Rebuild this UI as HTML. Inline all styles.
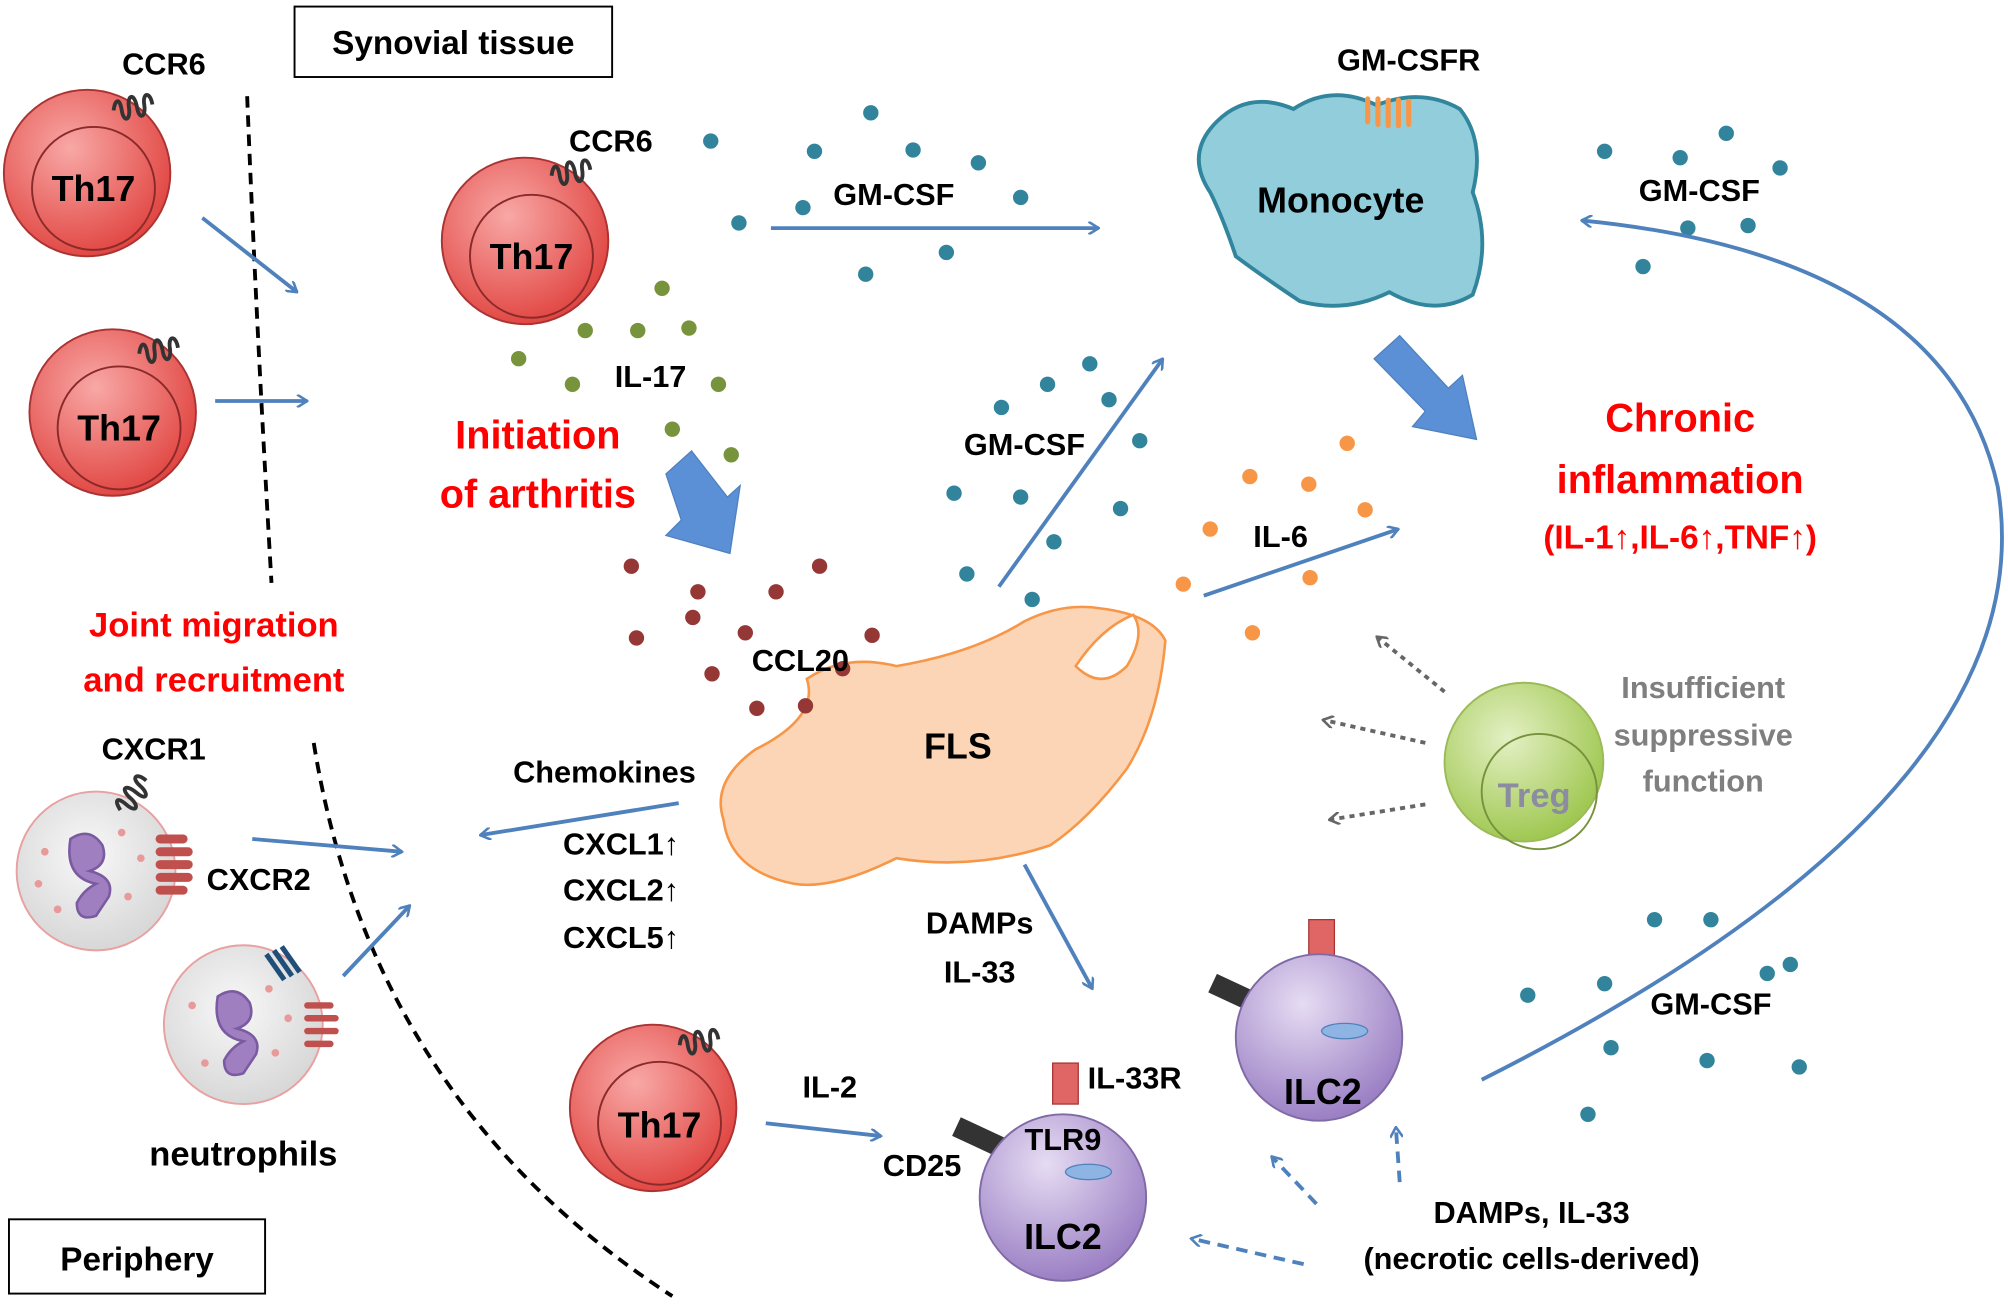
<!DOCTYPE html>
<html><head><meta charset="utf-8"><style>
html,body{margin:0;padding:0;background:#fff;}
svg{display:block;}
text{font-family:"Liberation Sans",sans-serif;font-weight:bold;}
</style></head><body>
<svg width="2008" height="1304" viewBox="0 0 1568 1018" xmlns="http://www.w3.org/2000/svg">
<defs>
<radialGradient id="red" cx="40%" cy="35%" r="70%"><stop offset="0" stop-color="#f8a8a6"/><stop offset="1" stop-color="#e0413d"/></radialGradient>
<radialGradient id="pur" cx="40%" cy="30%" r="70%"><stop offset="0" stop-color="#e6dcf3"/><stop offset="1" stop-color="#9b80c4"/></radialGradient>
<radialGradient id="grn" cx="40%" cy="35%" r="70%"><stop offset="0" stop-color="#e4f0c4"/><stop offset="1" stop-color="#9bc54a"/></radialGradient>
<radialGradient id="gry" cx="45%" cy="40%" r="70%"><stop offset="0" stop-color="#f8f8f8"/><stop offset="1" stop-color="#d2d2d2"/></radialGradient>
<marker id="ah" markerWidth="10" markerHeight="10" refX="9" refY="5" orient="auto" markerUnits="userSpaceOnUse" viewBox="0 0 10 10"><path d="M1,0 L9,5 L1,10" fill="none" stroke="#4f81bd" stroke-width="2"/></marker>
<marker id="ahg" markerWidth="10" markerHeight="10" refX="9" refY="5" orient="auto" markerUnits="userSpaceOnUse" viewBox="0 0 10 10"><path d="M1,0 L9,5 L1,10" fill="none" stroke="#666" stroke-width="2"/></marker>
<g id="rec"><path d="M0,0 c4,-8 8,-8 6,2 c-2,10 4,10 6,0 c2,-10 8,-10 6,2 c-2,10 4,10 6,0 c2,-10 8,-8 6,2" fill="none" stroke="#333" stroke-width="3"/></g>
</defs>

<!-- boxes -->
<rect x="230" y="5" width="248" height="55" fill="#fff" stroke="#000" stroke-width="1.5"/>
<text x="354" y="42" font-size="26" text-anchor="middle">Synovial tissue</text>
<rect x="7" y="952" width="200" height="58" fill="#fff" stroke="#000" stroke-width="1.5"/>
<text x="107" y="992" font-size="26" text-anchor="middle">Periphery</text>

<!-- dashed lines -->
<path d="M193,75 Q200,250 212,455" fill="none" stroke="#000" stroke-width="3" stroke-dasharray="9,6"/>
<path d="M245,580 Q290,860 525,1012" fill="none" stroke="#000" stroke-width="3" stroke-dasharray="9,6"/>

<!-- Th17 cells -->
<g>
<circle cx="68" cy="135" r="65" fill="url(#red)" stroke="#a33" stroke-width="1.5"/>
<circle cx="73" cy="147" r="48" fill="none" stroke="#8a2a2a" stroke-width="1.5"/>
<text x="73" y="157" font-size="28" text-anchor="middle">Th17</text>
<use href="#rec" x="88" y="82" transform="rotate(-20 100 82)"/>
<text x="128" y="58" font-size="24" text-anchor="middle">CCR6</text>
</g>
<g>
<circle cx="88" cy="322" r="65" fill="url(#red)" stroke="#a33" stroke-width="1.5"/>
<circle cx="93" cy="334" r="48" fill="none" stroke="#8a2a2a" stroke-width="1.5"/>
<text x="93" y="344" font-size="28" text-anchor="middle">Th17</text>
<use href="#rec" x="108" y="272" transform="rotate(-20 120 272)"/>
</g>
<g>
<circle cx="410" cy="188" r="65" fill="url(#red)" stroke="#a33" stroke-width="1.5"/>
<circle cx="415" cy="200" r="48" fill="none" stroke="#8a2a2a" stroke-width="1.5"/>
<text x="415" y="210" font-size="28" text-anchor="middle">Th17</text>
<use href="#rec" x="430" y="133" transform="rotate(-20 442 133)"/>
<text x="477" y="118" font-size="24" text-anchor="middle">CCR6</text>
</g>
<g>
<circle cx="510" cy="865" r="65" fill="url(#red)" stroke="#a33" stroke-width="1.5"/>
<circle cx="515" cy="877" r="48" fill="none" stroke="#8a2a2a" stroke-width="1.5"/>
<text x="515" y="888" font-size="28" text-anchor="middle">Th17</text>
<use href="#rec" x="530" y="812" transform="rotate(-20 542 812)"/>
</g>

<!-- Neutrophils -->
<g>
<circle cx="75" cy="680" r="62" fill="url(#gry)" stroke="#e8a0a0" stroke-width="1.5"/>
<path d="M55,655 q15,-10 25,5 q5,15 -10,20 q20,5 15,20 l-10,15 q-15,5 -15,-10 q5,-10 15,-15 q-25,-5 -20,-35z" fill="#9f7fc0" stroke="#7a5aa0" stroke-width="2"/>
<circle cx="35" cy="665" r="3" fill="#e89a9a"/><circle cx="45" cy="710" r="3" fill="#e89a9a"/><circle cx="100" cy="700" r="3" fill="#e89a9a"/><circle cx="95" cy="650" r="3" fill="#e89a9a"/><circle cx="30" cy="690" r="3" fill="#e89a9a"/><circle cx="110" cy="670" r="3" fill="#e89a9a"/>
<use href="#rec" x="88" y="622" transform="rotate(-60 100 622)" style="stroke:#1f4e79"/>
<path d="M125,655 h18 M125,665 h22 M125,675 h22 M125,685 h22 M125,695 h18" stroke="#c0504d" stroke-width="7" stroke-linecap="round"/>
<text x="120" y="593" font-size="24" text-anchor="middle">CXCR1</text>
<text x="202" y="695" font-size="24" text-anchor="middle">CXCR2</text>
</g>
<g>
<circle cx="190" cy="800" r="62" fill="url(#gry)" stroke="#e8a0a0" stroke-width="1.5"/>
<path d="M170,778 q15,-10 25,5 q5,15 -10,20 q20,5 15,20 l-10,15 q-15,5 -15,-10 q5,-10 15,-15 q-25,-5 -20,-35z" fill="#9f7fc0" stroke="#7a5aa0" stroke-width="2"/>
<circle cx="150" cy="785" r="3" fill="#e89a9a"/><circle cx="160" cy="830" r="3" fill="#e89a9a"/><circle cx="215" cy="822" r="3" fill="#e89a9a"/><circle cx="210" cy="772" r="3" fill="#e89a9a"/><circle cx="225" cy="795" r="3" fill="#e89a9a"/>
<path d="M240,785 h18 M240,795 h22 M240,805 h22 M240,815 h18" stroke="#c0504d" stroke-width="5" stroke-linecap="round" fill="none"/>
<path d="M208,745 l14,20 M214,742 l14,20 M220,739 l14,20" stroke="#1f4e79" stroke-width="4"/>
<text x="190" y="910" font-size="27" text-anchor="middle">neutrophils</text>
</g>

<!-- Monocyte -->
<path d="M950,95 Q975,70 1010,85 Q1040,65 1075,82 Q1110,68 1140,85 Q1160,110 1150,150 Q1165,190 1150,230 Q1120,248 1085,228 Q1050,245 1015,235 Q985,215 965,200 Q955,170 945,150 Q925,120 950,95Z" fill="#92cddc" stroke="#31859c" stroke-width="3"/>
<path d="M1068,95 v-18 M1076,97 v-20 M1084,98 v-20 M1092,98 v-20 M1100,97 v-18" stroke="#f79646" stroke-width="4" stroke-linecap="round"/>
<text x="1047" y="166" font-size="28" text-anchor="middle">Monocyte</text>
<text x="1100" y="55" font-size="24" text-anchor="middle">GM-CSFR</text>

<!-- FLS -->
<path d="M565,640 Q555,610 590,585 Q640,560 630,530 Q660,510 700,520 Q760,510 800,485 Q830,470 860,475 Q900,480 910,500 Q905,560 880,600 Q850,640 820,660 Q760,680 700,670 Q650,695 620,690 Q570,680 565,640Z" fill="#fbd5b5" stroke="#f79646" stroke-width="2"/>
<path d="M840,520 Q860,490 885,480 Q895,495 880,520 Q860,540 840,520Z" fill="#fff" stroke="#f79646" stroke-width="2"/>
<text x="748" y="592" font-size="28" text-anchor="middle">FLS</text>

<!-- Treg -->
<circle cx="1190" cy="595" r="62" fill="url(#grn)" stroke="#9bbb59" stroke-width="1.5"/>
<circle cx="1202" cy="618" r="45" fill="none" stroke="#76923c" stroke-width="1.5"/>
<text x="1198" y="630" font-size="27" text-anchor="middle" fill="#8c8ca0">Treg</text>
<text x="1330" y="545" font-size="24" text-anchor="middle" fill="#7f7f7f">Insufficient</text>
<text x="1330" y="582" font-size="24" text-anchor="middle" fill="#7f7f7f">suppressive</text>
<text x="1330" y="618" font-size="24" text-anchor="middle" fill="#7f7f7f">function</text>
<g stroke="#666" stroke-width="3" stroke-dasharray="4,4" marker-end="url(#ahg)">
<line x1="1128" y1="540" x2="1075" y2="497"/>
<line x1="1113" y1="580" x2="1033" y2="562"/>
<line x1="1113" y1="628" x2="1038" y2="640"/>
</g>

<!-- ILC2 -->
<g>
<rect x="1022" y="718" width="20" height="32" fill="#e06666" stroke="#a33"/>
<rect x="945" y="768" width="40" height="16" fill="#333" transform="rotate(25 965 776)"/>
<circle cx="1030" cy="810" r="65" fill="url(#pur)" stroke="#7f6aa6" stroke-width="1.5"/>
<ellipse cx="1050" cy="805" rx="18" ry="6" fill="#8eb4e3" stroke="#4f81bd"/>
<text x="1033" y="862" font-size="28" text-anchor="middle">ILC2</text>
</g>
<g>
<rect x="822" y="830" width="20" height="32" fill="#e06666" stroke="#a33"/>
<rect x="745" y="880" width="40" height="16" fill="#333" transform="rotate(25 765 888)"/>
<circle cx="830" cy="935" r="65" fill="url(#pur)" stroke="#7f6aa6" stroke-width="1.5"/>
<ellipse cx="850" cy="915" rx="18" ry="6" fill="#8eb4e3" stroke="#4f81bd"/>
<text x="830" y="898" font-size="24" text-anchor="middle">TLR9</text>
<text x="830" y="975" font-size="28" text-anchor="middle">ILC2</text>
<text x="886" y="850" font-size="24" text-anchor="middle">IL-33R</text>
<text x="720" y="918" font-size="24" text-anchor="middle">CD25</text>
</g>

<!-- dots -->
<g fill="#31849b">
<circle cx="555" cy="110" r="6"/><circle cx="680" cy="88" r="6"/><circle cx="636" cy="118" r="6"/><circle cx="713" cy="117" r="6"/><circle cx="764" cy="127" r="6"/><circle cx="627" cy="162" r="6"/><circle cx="797" cy="154" r="6"/><circle cx="577" cy="174" r="6"/><circle cx="676" cy="214" r="6"/><circle cx="739" cy="197" r="6"/>
<circle cx="818" cy="300" r="6"/><circle cx="851" cy="284" r="6"/><circle cx="866" cy="312" r="6"/><circle cx="782" cy="318" r="6"/><circle cx="890" cy="344" r="6"/><circle cx="745" cy="385" r="6"/><circle cx="797" cy="388" r="6"/><circle cx="875" cy="397" r="6"/><circle cx="823" cy="423" r="6"/><circle cx="755" cy="448" r="6"/><circle cx="806" cy="468" r="6"/>
<circle cx="1253" cy="118" r="6"/><circle cx="1348" cy="104" r="6"/><circle cx="1312" cy="123" r="6"/><circle cx="1390" cy="131" r="6"/><circle cx="1318" cy="178" r="6"/><circle cx="1365" cy="176" r="6"/><circle cx="1283" cy="208" r="6"/>
<circle cx="1292" cy="718" r="6"/><circle cx="1336" cy="718" r="6"/><circle cx="1398" cy="753" r="6"/><circle cx="1380" cy="760" r="6"/><circle cx="1193" cy="777" r="6"/><circle cx="1253" cy="768" r="6"/><circle cx="1258" cy="818" r="6"/><circle cx="1333" cy="828" r="6"/><circle cx="1405" cy="833" r="6"/><circle cx="1240" cy="870" r="6"/>
</g>
<g fill="#77933c">
<circle cx="517" cy="225" r="6"/><circle cx="457" cy="258" r="6"/><circle cx="498" cy="258" r="6"/><circle cx="538" cy="256" r="6"/><circle cx="405" cy="280" r="6"/><circle cx="447" cy="300" r="6"/><circle cx="561" cy="300" r="6"/><circle cx="525" cy="335" r="6"/><circle cx="571" cy="355" r="6"/>
</g>
<g fill="#953735">
<circle cx="493" cy="442" r="6"/><circle cx="640" cy="442" r="6"/><circle cx="545" cy="462" r="6"/><circle cx="606" cy="462" r="6"/><circle cx="541" cy="482" r="6"/><circle cx="497" cy="498" r="6"/><circle cx="582" cy="494" r="6"/><circle cx="681" cy="496" r="6"/><circle cx="556" cy="526" r="6"/><circle cx="658" cy="522" r="6"/><circle cx="591" cy="553" r="6"/><circle cx="629" cy="551" r="6"/>
</g>
<g fill="#f79646">
<circle cx="1052" cy="346" r="6"/><circle cx="976" cy="372" r="6"/><circle cx="1022" cy="378" r="6"/><circle cx="945" cy="413" r="6"/><circle cx="1066" cy="398" r="6"/><circle cx="924" cy="456" r="6"/><circle cx="1023" cy="451" r="6"/><circle cx="978" cy="494" r="6"/>
</g>

<!-- thin arrows -->
<g stroke="#4f81bd" stroke-width="3" fill="none" marker-end="url(#ah)">
<line x1="158" y1="170" x2="232" y2="228"/>
<line x1="168" y1="313" x2="240" y2="313"/>
<line x1="602" y1="178" x2="858" y2="178"/>
<line x1="780" y1="458" x2="908" y2="280"/>
<line x1="940" y1="465" x2="1092" y2="413"/>
<line x1="530" y1="627" x2="375" y2="652"/>
<line x1="197" y1="655" x2="314" y2="665"/>
<line x1="268" y1="762" x2="320" y2="707"/>
<line x1="800" y1="675" x2="853" y2="772"/>
<line x1="598" y1="877" x2="688" y2="887"/>
<path d="M1157,843 Q1600,620 1560,380 Q1520,200 1235,172"/>
</g>
<g stroke="#4f81bd" stroke-width="3" fill="none" stroke-dasharray="9,6" marker-end="url(#ah)">
<line x1="1018" y1="987" x2="930" y2="967"/>
<line x1="1028" y1="940" x2="993" y2="903"/>
<line x1="1093" y1="923" x2="1090" y2="880"/>
</g>

<!-- fat arrows -->
<path d="M520,370 L540,352 L568,388 L578,379 L570,432 L520,418 L532,406Z" fill="#5b8fd6" stroke="#4f81bd"/>
<path d="M1073,280 L1093,262 L1131,303 L1142,293 L1153,343 L1103,333 L1113,321Z" fill="#5b8fd6" stroke="#4f81bd"/>

<!-- labels -->
<g font-size="24">
<text x="698" y="160" text-anchor="middle">GM-CSF</text>
<text x="800" y="355" text-anchor="middle">GM-CSF</text>
<text x="1327" y="157" text-anchor="middle">GM-CSF</text>
<text x="1336" y="792" text-anchor="middle">GM-CSF</text>
<text x="508" y="302" text-anchor="middle">IL-17</text>
<text x="625" y="524" text-anchor="middle">CCL20</text>
<text x="1000" y="427" text-anchor="middle">IL-6</text>
<text x="472" y="611" text-anchor="middle">Chemokines</text>
<text x="485" y="667" text-anchor="middle">CXCL1↑</text>
<text x="485" y="703" text-anchor="middle">CXCL2↑</text>
<text x="485" y="740" text-anchor="middle">CXCL5↑</text>
<text x="765" y="729" text-anchor="middle">DAMPs</text>
<text x="765" y="767" text-anchor="middle">IL-33</text>
<text x="648" y="857" text-anchor="middle">IL-2</text>
<text x="1196" y="955" text-anchor="middle">DAMPs, IL-33</text>
<text x="1196" y="991" text-anchor="middle">(necrotic cells-derived)</text>
</g>
<g fill="#ff0000">
<text x="420" y="350" font-size="31" text-anchor="middle">Initiation</text>
<text x="420" y="396" font-size="31" text-anchor="middle">of arthritis</text>
<text x="167" y="497" font-size="27" text-anchor="middle">Joint migration</text>
<text x="167" y="540" font-size="27" text-anchor="middle">and recruitment</text>
<text x="1312" y="337" font-size="31" text-anchor="middle">Chronic</text>
<text x="1312" y="385" font-size="31" text-anchor="middle">inflammation</text>
<text x="1312" y="428" font-size="26" text-anchor="middle">(IL-1↑,IL-6↑,TNF↑)</text>
</g>
</svg>
</body></html>
